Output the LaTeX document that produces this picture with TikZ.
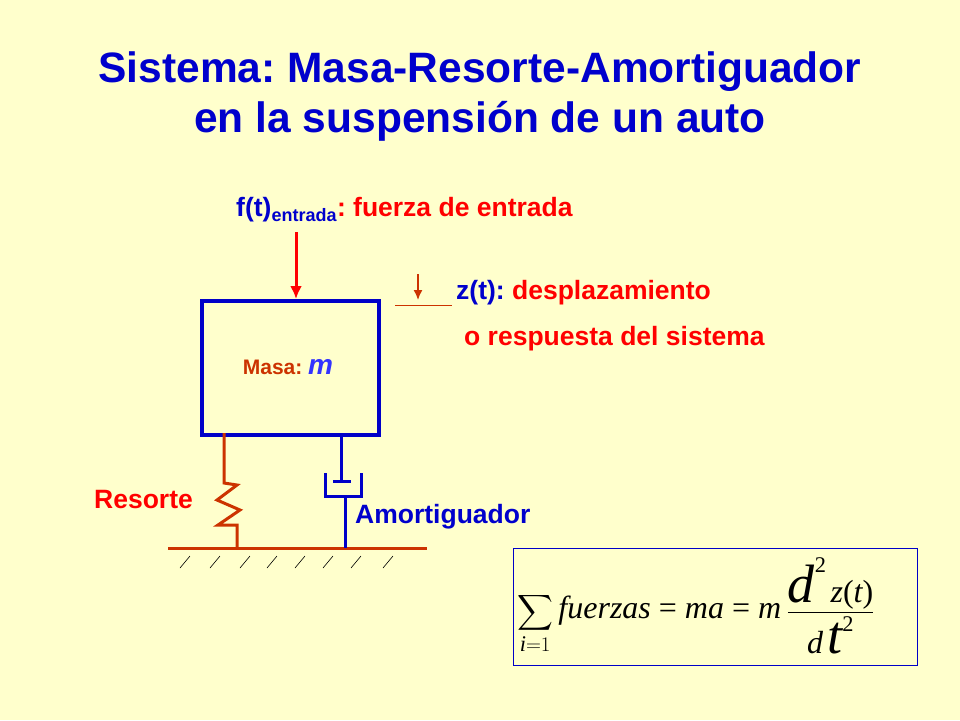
\documentclass[tikz,border=0pt]{standalone}
\usepackage{fontspec}
\setmainfont{Liberation Sans}
\newfontfamily\tms{Liberation Serif}
\usepackage{amsmath}
\usetikzlibrary{arrows.meta}
\frenchspacing
\definecolor{bg}{RGB}{255,255,204}
\definecolor{tblue}{RGB}{0,0,204}
\definecolor{dblue}{RGB}{0,0,200}
\definecolor{rred}{RGB}{255,0,0}
\definecolor{brn}{RGB}{204,51,0}
\definecolor{mblue}{RGB}{51,51,255}
\begin{document}
\frenchspacing
\begin{tikzpicture}[x=1pt,y=-1pt,
  lbl/.style={font=\fontsize{26.5}{30}\selectfont\bfseries,inner sep=0pt,anchor=west},
  brnline/.style={draw=brn,line width=3pt},
  bluline/.style={draw=dblue,line width=3pt}]
\fill[bg] (0,0) rectangle (960,720);
\useasboundingbox (0,0) rectangle (960,720);
\node[font=\fontsize{42.5}{50}\selectfont\bfseries,text=tblue,align=center] (title) at (480,97)
  {Sistema: Masa-Resorte-Amortiguador\\en la suspensión de un auto};
\node[lbl] (fin) at (236,210) {\textcolor{tblue}{f(t)\textsubscript{\fontsize{18}{20}\selectfont entrada}}\textcolor{rred}{: fuerza de entrada}};
\node[draw=dblue,line width=4pt,minimum width=177pt,minimum height=134pt,inner sep=0pt,anchor=north west] (mass) at (200,299) {};
\node[font=\fontsize{21}{24}\selectfont\bfseries,text=brn] (mlab) at (288,367) {Masa: \textcolor{mblue}{\fontsize{28}{30}\selectfont\itshape m}};
\coordinate (fa) at (296,232);
\draw[draw=rred,line width=3pt,-{Latex[length=13pt,width=12pt]}] (fa) -- (fa |- mass.north);
\coordinate (za) at (418,274);
\coordinate (zb) at (418,300);
\coordinate (zl1) at (395,305);
\coordinate (zl2) at (452,305);
\draw[draw=brn,line width=1.5pt,-{Latex[length=10pt,width=9pt]}] (za) -- (zb);
\draw[draw=brn,line width=0.8pt] (zl1) -- (zl2);
\node[lbl] (zt) at (456,293) {\textcolor{tblue}{z(t):} \textcolor{rred}{desplazamiento}};
\node[lbl,text=rred] (zt2) at (464,339) {o respuesta del sistema};
% ground
\coordinate (g1) at (168,548); \coordinate (g2) at (427,548);
\draw[brnline] (g1) -- (g2);
\foreach \x in {185,215,245,272,300,328,356,388}
  \draw[black,line width=0.6pt] (\x-5,568) -- (\x+5,556);
% spring
\draw[brnline,line join=miter] (224,433) -- (224,483) -- (237,485) -- (217,500) -- (240,510) -- (218,525) -- (237,525) -- (237,548);
% damper
\draw[bluline] (341,433) -- (341,481);
\draw[bluline] (333,481) -- (351,481);
\draw[bluline] (325,473) -- (325,496) -- (361,496) -- (361,473);
\draw[bluline] (345,496) -- (345,548);
\node[lbl,text=rred] (res) at (94,500) {Resorte};
\node[lbl,text=tblue] (amo) at (355,517) {Amortiguador};
% equation
\node[draw=dblue,line width=0.8pt,minimum width=404pt,minimum height=117pt,anchor=north west,inner sep=0pt] (eqbox) at (513,548) {};
\node[font=\fontsize{32}{34}\selectfont\tms,anchor=west,inner sep=0pt] (eq) at (517,606)
  {$\displaystyle\sum_{\text{\itshape i}=1}$\,\textit{fuerzas} = \textit{ma} = \textit{m}\,$\dfrac{\text{\fontsize{54}{56}\selectfont\itshape d}^{\text{2}}\,\text{\itshape z}\text{(}\text{\itshape t}\text{)}}{\text{\itshape d}\,\text{\fontsize{54}{56}\selectfont\itshape t}^{\text{2}}}$};
\end{tikzpicture}
\end{document}
